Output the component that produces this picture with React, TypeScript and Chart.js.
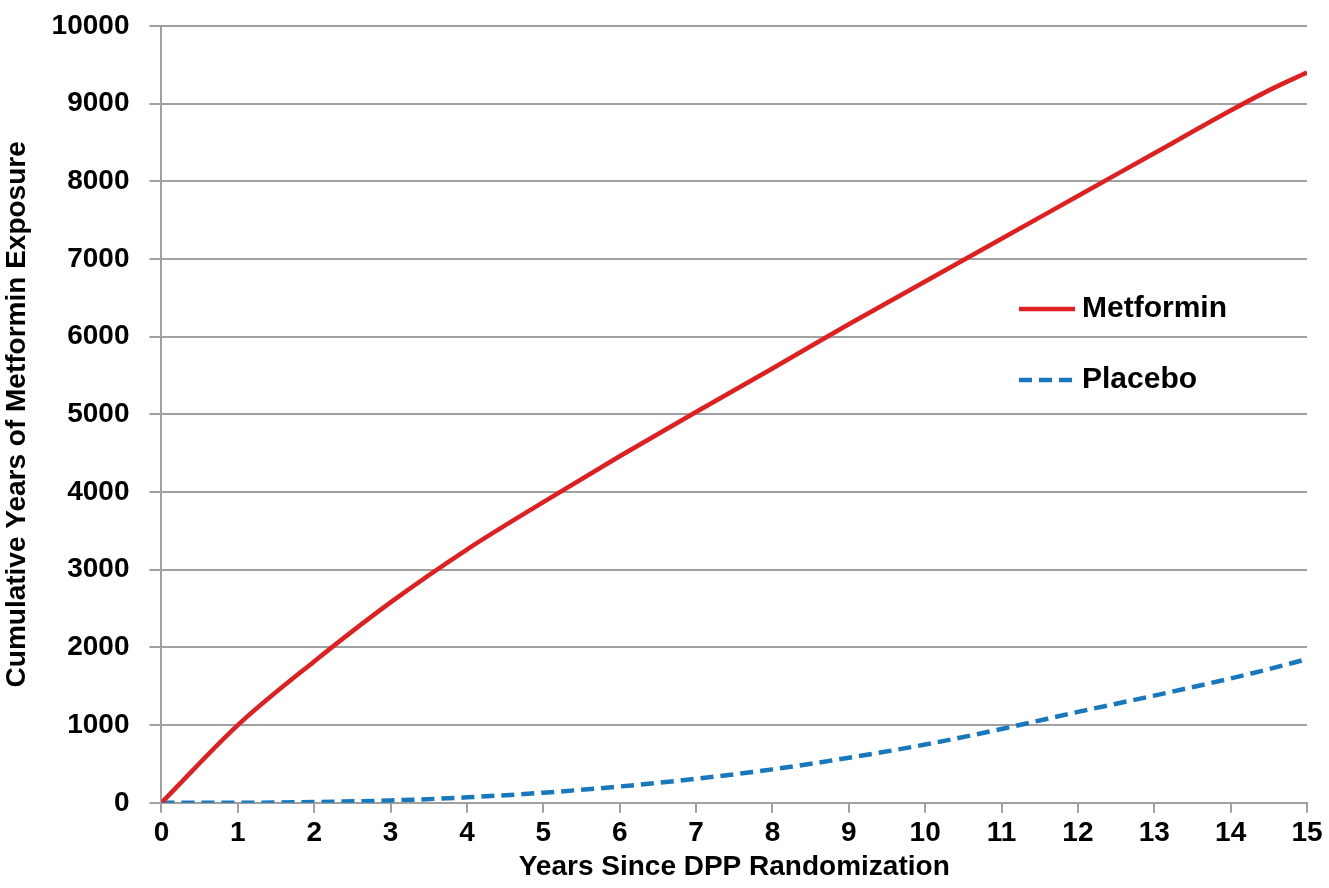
import React, { useEffect, useRef } from "react";
import { Chart, registerables } from "chart.js";

Chart.register(...registerables);

const years = [0, 1, 2, 3, 4, 5, 6, 7, 8, 9, 10, 11, 12, 13, 14, 14.5, 15];
const metformin = [0, 1000, 1820, 2580, 3260, 3870, 4460, 5030, 5590, 6160, 6710, 7260, 7810, 8360, 8910, 9170, 9400];
const placebo = [0, 0, 10, 30, 70, 130, 210, 310, 430, 580, 750, 950, 1170, 1380, 1600, 1720, 1850];
const seriesNames = ["Metformin", "Placebo"];
const xTitle = "Years Since DPP Randomization";
const yTitle = "Cumulative Years of Metformin Exposure";

const RED = "#e02020";
const BLUE = "#1878bd";
const FONT = "'Liberation Sans', Arial, sans-serif";

const legendPlugin = {
  id: "insideLegend",
  afterDraw(chart: any) {
    const ctx = chart.ctx;
    ctx.save();
    const items = [
      { name: seriesNames[0], color: RED, dash: [] as number[], y: 309 },
      { name: seriesNames[1], color: BLUE, dash: [13, 7], y: 380 },
    ];
    items.forEach((it) => {
      ctx.strokeStyle = it.color;
      ctx.lineWidth = 4.5;
      ctx.setLineDash(it.dash);
      ctx.beginPath();
      ctx.moveTo(1019, it.y);
      ctx.lineTo(1075, it.y);
      ctx.stroke();
      ctx.setLineDash([]);
      ctx.fillStyle = "#000";
      ctx.font = `bold 30px ${FONT}`;
      ctx.textBaseline = "middle";
      ctx.textAlign = "left";
      ctx.fillText(it.name, 1082, it.y);
    });
    ctx.restore();
  },
};

export default function App() {
  const ref = useRef<HTMLCanvasElement>(null);
  useEffect(() => {
    document.body.style.margin = "0";
    const chart = new Chart(ref.current!, {
      type: "line",
      data: {
        datasets: [
          {
            label: seriesNames[0],
            data: years.map((x, i) => ({ x, y: metformin[i] })),
            borderColor: RED,
            borderWidth: 4.5,
            pointRadius: 0,
            cubicInterpolationMode: "monotone",
            fill: false,
          },
          {
            label: seriesNames[1],
            data: years.map((x, i) => ({ x, y: placebo[i] })),
            borderColor: BLUE,
            borderWidth: 4.5,
            borderDash: [13, 7],
            pointRadius: 0,
            cubicInterpolationMode: "monotone",
            fill: false,
          },
        ],
      },
      options: {
        animation: false,
        responsive: false,
        devicePixelRatio: 1,
        layout: { padding: { top: 0, right: 22, left: 0, bottom: 4 } },
        plugins: { legend: { display: false }, tooltip: { enabled: false } },
        scales: {
          x: {
            type: "linear",
            min: 0,
            max: 15,
            ticks: {
              stepSize: 1,
              color: "#000",
              font: { family: FONT, size: 28, weight: "bold" },
              padding: 4,
              callback: (v: any) => String(v),
            },
            grid: {
              drawOnChartArea: false,
              drawTicks: true,
              tickLength: 10,
              color: "#a0a0a0",
              lineWidth: 2,
            },
            border: { color: "#a0a0a0", width: 2 },
            title: {
              display: true,
              text: xTitle,
              color: "#000",
              font: { family: FONT, size: 28, weight: "bold" },
              padding: { top: -4, bottom: 0 },
            },
          },
          y: {
            min: 0,
            max: 10000,
            ticks: {
              stepSize: 1000,
              color: "#000",
              font: { family: FONT, size: 28, weight: "bold", lineHeight: 0.42 },
              padding: 20,
              callback: (v: any) => String(v),
            },
            grid: {
              color: "#a0a0a0",
              lineWidth: 2,
              drawTicks: true,
              tickLength: 12,
            },
            border: { color: "#a0a0a0", width: 2 },
            title: {
              display: true,
              text: yTitle,
              color: "#000",
              font: { family: FONT, size: 28, weight: "bold" },
              padding: { top: 0, bottom: -2 },
            },
          },
        },
      },
      plugins: [legendPlugin],
    } as any);
    return () => chart.destroy();
  }, []);
  return (
    <div style={{ width: 1329, height: 888, background: "#fff" }}>
      <canvas ref={ref} width={1329} height={888} style={{ display: "block" }} />
    </div>
  );
}
